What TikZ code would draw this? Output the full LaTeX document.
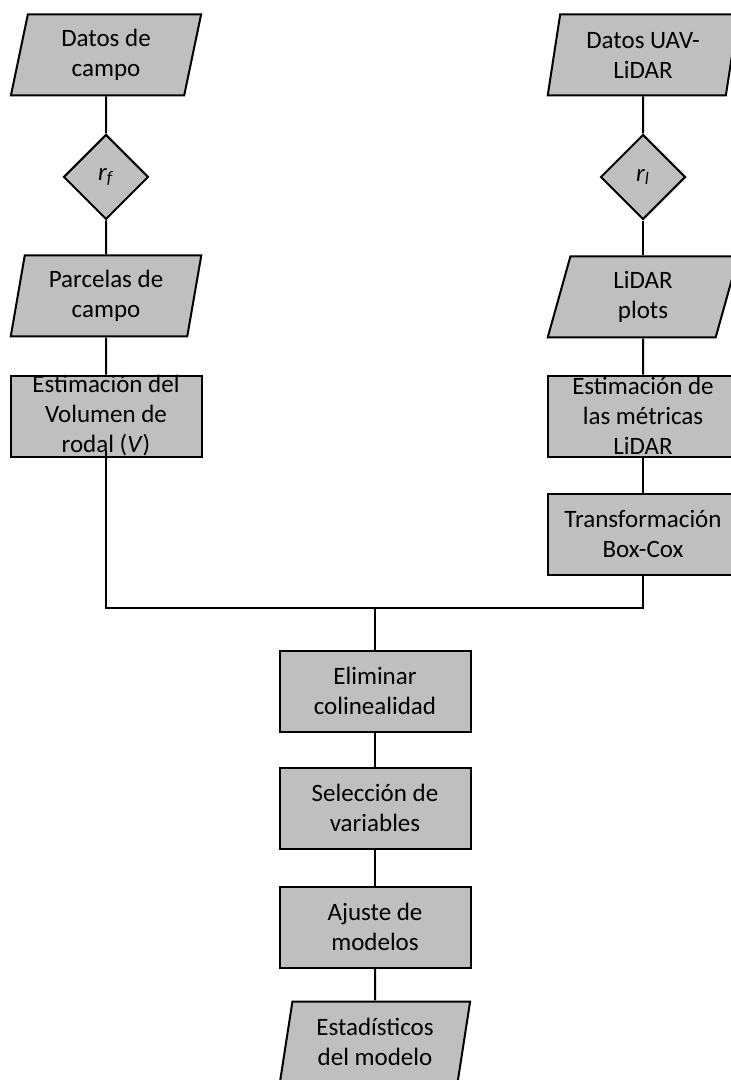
\documentclass[tikz,border=0pt]{standalone}
\usepackage{fontspec}
\setmainfont{Carlito}
\usepackage{tikz}
\usetikzlibrary{shapes.geometric}
\definecolor{Box}{HTML}{BFBFBF}

\begin{document}
\begin{tikzpicture}[x=0.5pt,y=-0.5pt,
    line width=1pt,
    data/.style={trapezium,trapezium left angle=75,trapezium right angle=105,
      trapezium stretches=true,draw,fill=Box,minimum width=95.5pt,
      minimum height=40.5pt,inner xsep=2pt,inner ysep=-3pt,align=center,
      font=\fontsize{12.5}{15}\selectfont},
    proc/.style={rectangle,draw,fill=Box,minimum width=95.5pt,
      minimum height=40.5pt,inner xsep=2pt,inner ysep=-3pt,align=center,
      font=\fontsize{12.5}{15}\selectfont},
    test/.style={diamond,draw,fill=Box,aspect=1,minimum size=42.5pt,
      inner sep=0pt,font=\fontsize{12.5}{15}\selectfont}
  ]
    \useasboundingbox (0,0) rectangle (731,1080);
    % field branch
    \node[data] (campo) at (106,55) {Datos de\\campo};
    \node[test] (rf) at (106,177) {\textit{r}\textsubscript{\textit{f}}};
    \node[data] (parcelas) at (106,296) {Parcelas de\\campo};
    \node[proc] (volumen) at (106,416)
      {Estimación del\\Volumen de\\rodal (\textit{V})};
    % LiDAR branch
    \node[data] (lidar) at (643,55) {Datos UAV-\\LiDAR};
    \node[test] (rl) at (643,177) {\textit{r}\textsubscript{\textit{l}}};
    \node[data] (plots) at (643,297) {LiDAR\\plots};
    \node[proc] (metricas) at (643,416)
      {Estimación de\\las métricas\\LiDAR};
    \node[proc] (boxcox) at (643,534) {Transformación\\Box-Cox};
    % modelling
    \coordinate (union) at (375,608);
    \node[proc] (colin) at (375,691) {Eliminar\\colinealidad};
    \node[proc] (seleccion) at (375,808) {Selección de\\variables};
    \node[proc] (ajuste) at (375,927) {Ajuste de\\modelos};
    \node[data] (stats) at (375,1042) {Estadísticos\\del modelo};

    \draw (campo) -- (rf);
    \draw (rf) -- (parcelas);
    \draw (parcelas) -- (volumen);
    \draw (lidar) -- (rl);
    \draw (rl) -- (plots);
    \draw (plots) -- (metricas);
    \draw (metricas) -- (boxcox);
    \draw ([yshift=4pt]volumen.south) |- (union) -| (boxcox.south);
    \draw (union) -- (colin);
    \draw (colin) -- (seleccion);
    \draw (seleccion) -- (ajuste);
    \draw (ajuste) -- (stats);
  \end{tikzpicture}
\end{document}
